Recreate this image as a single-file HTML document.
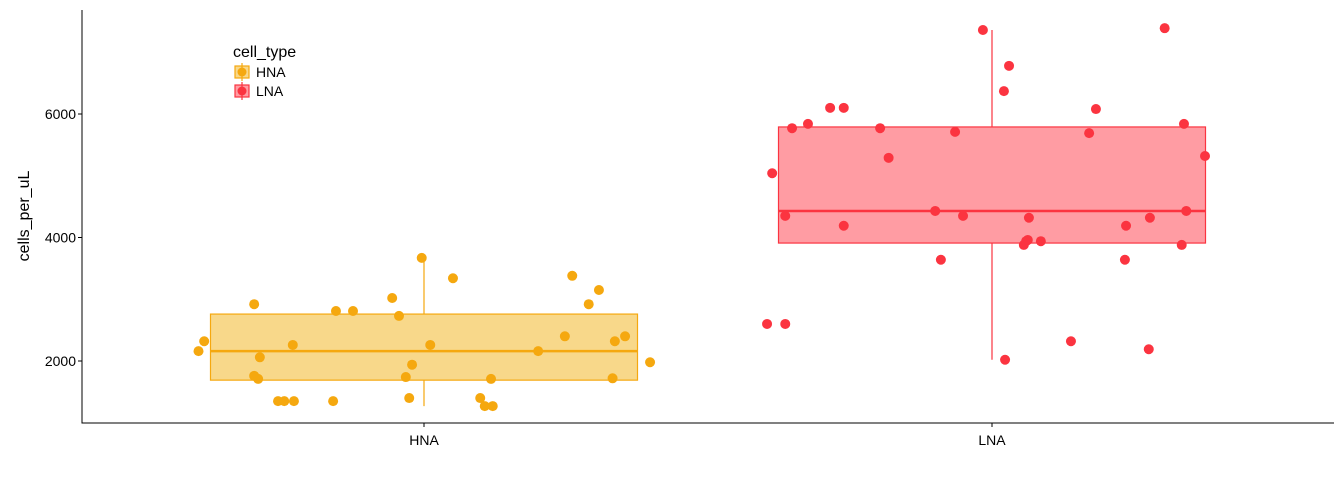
<!DOCTYPE html>
<html><head><meta charset="utf-8"><style>
body{margin:0;background:#fff;}
svg{display:block;font-family:"Liberation Sans",Arial,sans-serif;}
</style></head><body>
<svg id="chart" width="1344" height="480"></svg>
<script>
const categories=["HNA","LNA"];
const colors=["#F5A80F","#FB3440"];
const fills=["#F8D88A","#FF9CA3"];
const q1=[1690,3910];
const medians=[2160,4430];
const q3=[2760,5790];
const whiskerLow=[1270,2020];
const whiskerHigh=[3670,7360];
const yTicks=[2000,4000,6000];
const hnaValues=[2160,2320,2920,2060,1760,1710,1350,1350,1350,2260,1350,2810,2810,3020,2730,1740,1400,1940,3670,2260,3340,1400,1270,1710,1270,2160,2400,3380,2920,3150,1720,2320,2400,1980];
const hnaJitter=[-0.397,-0.387,-0.299,-0.289,-0.299,-0.292,-0.257,-0.246,-0.229,-0.231,-0.160,-0.155,-0.125,-0.056,-0.044,-0.032,-0.026,-0.021,-0.004,0.011,0.051,0.099,0.107,0.118,0.121,0.201,0.248,0.261,0.290,0.308,0.332,0.336,0.354,0.398];
const lnaValues=[2600,2600,5040,4350,5770,5840,6100,6100,4190,5770,5290,4430,3640,5710,4350,7360,6370,6780,2020,3880,3940,4320,3960,3940,2320,5690,6080,4190,3640,2190,4320,7390,3880,5840,4430,5320];
const lnaJitter=[-0.396,-0.364,-0.387,-0.364,-0.352,-0.324,-0.285,-0.261,-0.261,-0.197,-0.182,-0.100,-0.090,-0.065,-0.051,-0.016,0.021,0.030,0.023,0.056,0.060,0.065,0.063,0.086,0.139,0.171,0.183,0.236,0.234,0.276,0.278,0.304,0.334,0.338,0.342,0.375];

const NS="http://www.w3.org/2000/svg";
const svg=document.getElementById("chart");
const X0=82,X1=1334,Y0=423,Y1=10;
const yMin=996,yMax=7684;
function ys(v){return Y0-(v-yMin)/(yMax-yMin)*(Y0-Y1);}
const catX=[424,992];const band=568;
function xs(i,j){return catX[i]+(j||0)*band;}
function el(tag,attrs){const e=document.createElementNS(NS,tag);for(const k in attrs)e.setAttribute(k,attrs[k]);svg.appendChild(e);return e;}

// axes
let a=el("line",{x1:X0,y1:Y1,x2:X0,y2:Y0+0.5,stroke:"#000","stroke-width":1});


a=el("line",{x1:X0,y1:Y0,x2:X1,y2:Y0,stroke:"#000","stroke-width":1});


yTicks.forEach(t=>{
  const y=ys(t);
  const tk=el("line",{x1:X0-4,y1:y,x2:X0,y2:y,stroke:"#000"});
  
  
  const tx=el("text",{x:X0-6,y:y+5,"text-anchor":"end","font-size":14,fill:"#000"});
  tx.textContent=t;
  
  
});
categories.forEach((c,i)=>{
  const tk=el("line",{x1:xs(i),y1:Y0,x2:xs(i),y2:Y0+4,stroke:"#000"});
  
  
  const tx=el("text",{x:xs(i),y:Y0+22,"text-anchor":"middle","font-size":14,fill:"#000"});
  tx.textContent=c;
  
  
});
const yt=el("text",{x:0,y:0,transform:"translate(29,216) rotate(-90)","text-anchor":"middle","font-size":16,fill:"#000"});
yt.textContent="cells_per_uL";



// boxes
const halfW=213.5;
categories.forEach((c,i)=>{
  const w=el("line",{x1:xs(i),y1:ys(whiskerHigh[i]),x2:xs(i),y2:ys(whiskerLow[i]),stroke:colors[i],"stroke-width":1.2});
  
  
  const r=el("rect",{x:xs(i)-halfW,y:ys(q3[i]),width:2*halfW,height:ys(q1[i])-ys(q3[i]),fill:fills[i],stroke:colors[i],"stroke-width":1.2});
  
  
  const m=el("line",{x1:xs(i)-halfW,y1:ys(medians[i]),x2:xs(i)+halfW,y2:ys(medians[i]),stroke:colors[i],"stroke-width":2.5});
  
  
});
// points
[[hnaValues,hnaJitter],[lnaValues,lnaJitter]].forEach(([vals,jit],i)=>{
  vals.forEach((v,k)=>{
    const p=el("circle",{cx:xs(i,jit[k]),cy:ys(v),r:5,fill:colors[i]});
    
    
  });
});
// legend
const lt=el("text",{x:233,y:57,"font-size":16,fill:"#000"});
lt.textContent="cell_type";


categories.forEach((c,i)=>{
  const cy=72+i*19;
  const g=el("rect",{x:235,y:cy-6,width:14,height:12,fill:fills[i],stroke:colors[i],"stroke-width":1.2});
  
  
  const ln=el("line",{x1:242,y1:cy-9,x2:242,y2:cy+9,stroke:colors[i],"stroke-width":1.2});
  
  
  const d=el("circle",{cx:242,cy:cy,r:4.5,fill:colors[i]});
  
  
  const t=el("text",{x:256,y:cy+5,"font-size":14,fill:"#000"});
  t.textContent=c;
  
  
});
</script>
</body></html>
